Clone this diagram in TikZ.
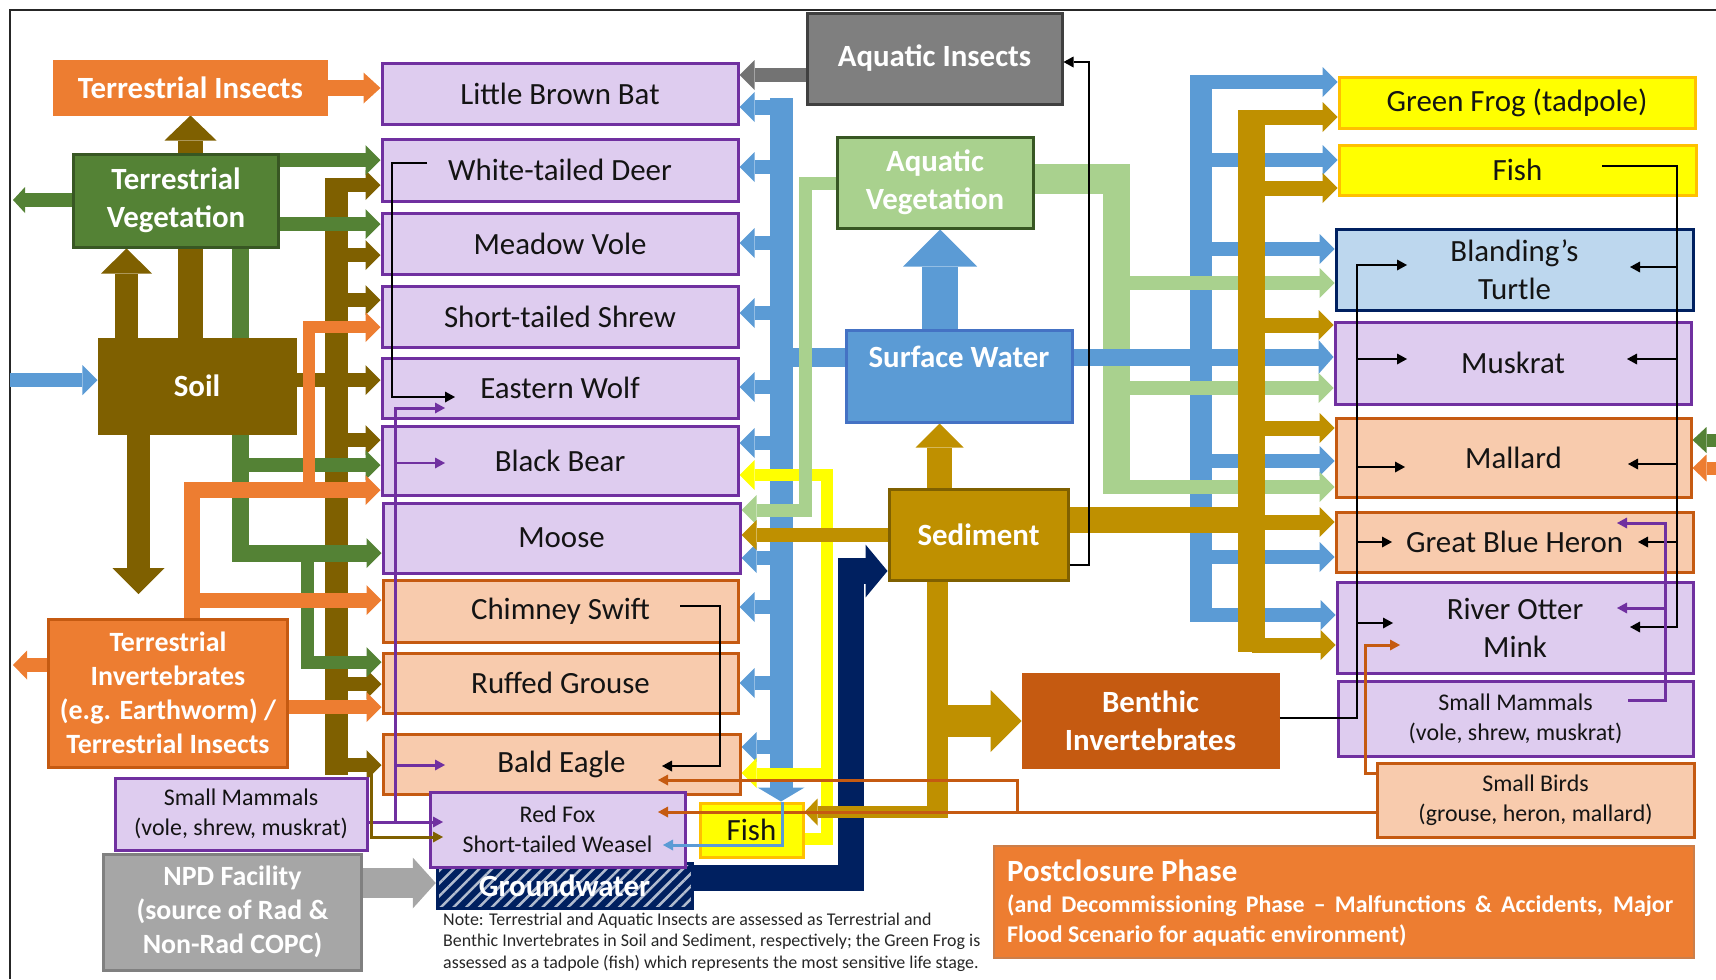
\documentclass[tikz,border=0pt]{standalone}
\usepackage{fontspec}
\setmainfont{Carlito}
\usetikzlibrary{arrows.meta,patterns.meta}
\pgfdeclarelayer{bg}
\pgfsetlayers{bg,main}
\definecolor{lavc}{RGB}{222,204,239}
\definecolor{purc}{RGB}{112,48,160}
\definecolor{pchc}{RGB}{248,203,173}
\definecolor{pbc}{RGB}{197,90,17}
\definecolor{orgc}{RGB}{237,125,49}
\definecolor{tvg}{RGB}{84,130,53}
\definecolor{tvb}{RGB}{56,87,35}
\definecolor{ltg}{RGB}{169,209,142}
\definecolor{soilc}{RGB}{127,96,0}
\definecolor{goldc}{RGB}{191,144,0}
\definecolor{bluec}{RGB}{91,155,213}
\definecolor{blueb}{RGB}{68,114,196}
\definecolor{navyc}{RGB}{0,32,96}
\definecolor{yelc}{RGB}{255,255,0}
\definecolor{yelb}{RGB}{255,192,0}
\definecolor{ltbl}{RGB}{189,215,238}
\definecolor{aig}{RGB}{127,127,127}
\definecolor{aib}{RGB}{64,64,64}
\definecolor{npdg}{RGB}{166,166,166}
\definecolor{npdb}{RGB}{128,128,128}
\definecolor{benc}{RGB}{197,90,17}
\definecolor{txtc}{RGB}{20,20,20}
\newcommand{\fntB}{\fontsize{31}{38}\selectfont\bfseries}
\newcommand{\fntL}{\fontsize{31}{38}\selectfont}
\newcommand{\fntM}{\fontsize{24}{30}\selectfont}
\newcommand{\fntI}{\fontsize{28}{34}\selectfont\bfseries}
\newcommand{\fntN}{\fontsize{18}{21.5}\selectfont}
\newcommand{\fntS}{\fontsize{24}{30.5}\selectfont\bfseries}
\newcommand{\fntP}{\fontsize{31}{31}\selectfont\bfseries}
\newcommand{\diabox}[7]{%
  \pgfmathsetmacro{\bxw}{#4-#2}%
  \pgfmathsetmacro{\bxh}{#5-#3}%
  \node[#6, minimum width=\bxw bp, minimum height=\bxh bp] (#1) at ({(#2+#4)/2},{(#3+#5)/2}) {#7};%
}
\tikzset{
  hd/.style 2 args={-{Triangle[length=#1bp,width=#2bp,line width=0bp]}},
  stdtip/.style={hd={15}{30}},
  thintip/.style={-{Triangle[length=10bp,width=11bp,line width=0bp]}},
  base/.style={draw, line width=3bp, inner sep=0pt, align=center},
  wb/.style={base, text=white, font=\fntB},
  bk/.style={base, text=txtc, font=\fntL},
  lav/.style={bk, fill=lavc, draw=purc},
  pch/.style={bk, fill=pchc, draw=pbc},
  lavs/.style={lav, font=\fntM},
  pchs/.style={pch, font=\fntM},
  thinl/.style={line width=2.5bp},
}
\begin{document}
\begin{tikzpicture}[x=1bp,y=-1bp]
\useasboundingbox (0,0) rectangle (1716,979);
% ---------- nodes ----------
\diabox{ti}{55}{61}{326}{114}{wb, fill=orgc, draw=orgc}{Terrestrial Insects}
\diabox{tv}{74}{154}{278}{247}{wb, fill=tvg, draw=tvb}{Terrestrial\\Vegetation}
\diabox{soil}{99}{339}{295}{433}{wb, fill=soilc, draw=soilc}{Soil}
\diabox{tinv}{49}{619}{287}{767}{wb, font=\fntI, fill=orgc, draw=pbc}{Terrestrial\\Invertebrates\\(e.g. Earthworm) /\\Terrestrial Insects}
\diabox{smL}{115}{778}{367}{850}{lavs}{Small Mammals\\(vole, shrew, muskrat)}
\diabox{npd}{104}{854}{361}{970}{wb, font=\fntI, fill=npdg, draw=npdb}{NPD Facility\\(source of Rad \&\\Non-Rad COPC)}
\diabox{lbb}{382}{63}{738}{124}{lav}{Little Brown Bat}
\diabox{wtd}{382}{139}{738}{201}{lav}{White-tailed Deer}
\diabox{mv}{382}{213}{738}{274}{lav}{Meadow Vole}
\diabox{sts}{382}{286}{738}{347}{lav}{Short-tailed Shrew}
\diabox{ew}{382}{358}{738}{418}{lav}{Eastern Wolf}
\diabox{bb}{382}{426}{738}{495}{lav}{Black Bear}
\diabox{moose}{383}{503}{740}{573}{lav}{Moose}
\diabox{cs}{383}{580}{738}{642}{pch}{Chimney Swift}
\diabox{rg}{383}{653}{738}{713}{pch}{Ruffed Grouse}
\diabox{be}{383}{734}{740}{794}{pch}{Bald Eagle}
\diabox{gw}{437}{863}{692}{908}{wb, draw=navyc, preaction={fill=navyc}, pattern={Lines[angle=45,distance=9bp,line width=2.5bp]}, pattern color=white!70!navyc}{Groundwater}
\diabox{rf}{430}{792}{685}{867}{lavs}{Red Fox\\Short-tailed Weasel}
\diabox{fishS}{700}{803}{803}{857}{bk, fill=yelc, draw=yelb}{Fish}
\diabox{ai}{807}{13}{1062}{104}{wb, fill=aig, draw=aib}{Aquatic Insects}
\diabox{av}{837}{137}{1033}{228}{wb, fill=ltg, draw=tvb}{Aquatic\\Vegetation}
\diabox{sw}{846}{330}{1072}{422}{base, fill=bluec, draw=blueb}{}
\diabox{sed}{889}{489}{1068}{580}{wb, fill=goldc, draw=soilc}{Sediment}
\diabox{bi}{1023}{674}{1278}{767}{wb, fill=benc, draw=benc}{Benthic\\Invertebrates}
\diabox{post}{994}{846}{1694}{958}{base, line width=1.5bp, fill=orgc, draw=orgc!70!gray}{}
\diabox{gf}{1339}{77}{1695}{128}{bk, fill=yelc, draw=yelb}{Green Frog (tadpole)}
\diabox{fishR}{1339}{145}{1696}{195}{bk, fill=yelc, draw=yelb}{Fish}
\diabox{bt}{1336}{229}{1693}{310}{bk, fill=ltbl, draw=navyc}{Blanding’s\\Turtle}
\diabox{mk}{1335}{322}{1691}{404}{lav}{Muskrat}
\diabox{mal}{1336}{418}{1691}{497}{pch}{Mallard}
\diabox{gbh}{1336}{512}{1693}{572}{pch}{Great Blue Heron}
\diabox{ro}{1337}{582}{1693}{673}{lav}{River Otter\\Mink}
\diabox{smR}{1338}{681}{1693}{756}{lavs}{Small Mammals\\(vole, shrew, muskrat)}
\diabox{sb}{1377}{763}{1694}{837}{pchs}{Small Birds\\(grouse, heron, mallard)}
% free ends
\coordinate (tvout) at (13,200);
\coordinate (tinvout) at (13,665);
\coordinate (soilin) at (10,380);
\coordinate (soildn) at (138.5,594);
\coordinate (edgeG) at (1716,440);
\coordinate (edgeO) at (1716,468);
% ---------- fat connectors ----------
\begin{pgfonlayer}{bg}
\draw[line width=2bp, black!85] (10,979) -- (10,10) -- (1716,10);
% soil (brown)
\draw[soilc, line width=23bp, hd={25}{51}] (soil.north -| 126.5,0) -- (tv.south -| 126.5,0);
\draw[soilc, line width=25bp, hd={25}{52}] (soil.north -| 190.5,0) -- (ti.south -| 190.5,0);
\draw[soilc, line width=23bp, hd={26}{52}] (soil.south -| 138.5,0) -- (soildn);
\draw[soilc, line width=14bp, stdtip] (soil.east |- 0,380) -- (ew.west |- 0,380);
\draw[soilc, line width=23bp] (336.5,178) -- (336.5,775);
\foreach \yy/\nn in {185/wtd,255/mv,300/sts,440/bb,684/rg,765/be}
  \draw[soilc, line width=14bp, stdtip] (336.5,\yy) -- (\nn.west |- 0,\yy);
% terrestrial vegetation (green)
\draw[tvg, line width=14bp, stdtip] (tv.east |- 0,160) -- (wtd.west |- 0,160);
\draw[tvg, line width=14bp, stdtip] (tv.east |- 0,224) -- (mv.west |- 0,224);
\draw[tvg, line width=14bp, hd={12}{26}] (tv.west |- 0,200) -- (tvout);
\draw[tvg, line width=17bp, stdtip] (tv.south -| 240.5,0) -- (240.5,553) -- (moose.west |- 0,553);
\draw[tvg, line width=14bp, stdtip] (240.5,465) -- (bb.west |- 0,465);
\draw[tvg, line width=13bp, stdtip] (307,553) -- (307,662) -- (rg.west |- 0,662);
% terrestrial invertebrates / insects (orange)
\draw[orgc, line width=16bp, hd={17}{31}] (ti.east |- 0,88) -- (lbb.west |- 0,88);
\draw[orgc, line width=14bp, hd={14}{29}] (tinv.west |- 0,665) -- (tinvout);
\draw[orgc, line width=16bp, stdtip] (tinv.north -| 191.5,0) -- (191.5,490) -- (bb.west |- 0,490);
\draw[orgc, line width=15bp, stdtip] (191.5,600) -- (cs.west |- 0,600);
\draw[orgc, line width=12bp, stdtip] (309,490) -- (309,327) -- (sts.west |- 0,327);
\draw[orgc, line width=14bp, stdtip] (tinv.east |- 0,707) -- (rg.west |- 0,707);
% grey
\draw[npdg, line width=30bp, hd={23}{51}] (npd.east |- 0,883) -- (gw.west |- 0,883);
\draw[black!55, line width=14bp, stdtip] (ai.west |- 0,75) -- (lbb.east |- 0,75);
% aquatic vegetation trunk (right)
\draw[ltg, line width=30bp] (av.east |- 0,179) -- (1130,179);
\draw[ltg, line width=27bp] (1116.5,164) -- (1116.5,494);
% surface water (blue)
\draw[bluec, line width=14bp, stdtip] (soilin) -- (soil.west |- 0,380);
\draw[bluec, line width=23bp, hd={14}{47}] (781,98) -- (fishS.north -| 781,0);
\draw[bluec, line width=15bp, stdtip] (792,107) -- (lbb.east |- 0,107);
\foreach \yy/\nn in {167/wtd,243/mv,313/sts,387/ew,443/bb,558/moose,607/cs,683/rg,747/be}
  \draw[bluec, line width=14bp, stdtip] (781,\yy) -- (\nn.east |- 0,\yy);
\draw[bluec, line width=19bp] (sw.west |- 0,357.5) -- (781,357.5);
\draw[bluec, line width=36bp, hd={37}{74}] (sw.north -| 940,0) -- (av.south -| 940,0);
\draw[bluec, line width=17bp, hd={15}{34}] (sw.east |- 0,357) -- (mk.west |- 0,357);
\draw[bluec, line width=22bp] (1201,75) -- (1201,622);
\foreach \yy/\nn in {82/gf,160/fishR,249/bt,461/mal,557/gbh,615/ro}
  \draw[bluec, line width=14bp, stdtip] (1201,\yy) -- (\nn.west |- 0,\yy);
% fish (yellow)
\draw[yelc, line width=12bp, stdtip] (fishS.east |- 0,839) -- (827,839) -- (827,475) -- (bb.east |- 0,475);
\draw[yelc, line width=11bp, stdtip] (827,773) -- (be.east |- 0,773);
% aquatic vegetation (light green)
\draw[ltg, line width=13bp, stdtip] (av.west |- 0,183.5) -- (805,183.5) -- (805,510) -- (moose.east |- 0,510);
\foreach \yy/\nn in {283/bt,388/mk,487/mal}
  \draw[ltg, line width=14bp, stdtip] (1116.5,\yy) -- (\nn.west |- 0,\yy);
% groundwater (navy)
\draw[navyc, line width=26bp, hd={22}{53}] (gw.east |- 0,878) -- (851,878) -- (851,571) -- (sed.west |- 0,571);
% sediment (gold)
\draw[goldc, line width=25bp, hd={24}{48}] (sed.north -| 939.5,0) -- (sw.south -| 939.5,0);
\draw[goldc, line width=14bp, stdtip] (sed.west |- 0,535) -- (moose.east |- 0,535);
\draw[goldc, line width=21bp] (sed.south -| 937.5,0) -- (937.5,818);
\draw[goldc, line width=12bp, hd={13}{27}] (946,812) -- (fishS.east |- 0,812);
\draw[goldc, line width=32bp, hd={31}{62}] (937.5,721) -- (bi.west |- 0,721);
\draw[goldc, line width=26bp] (sed.east |- 0,520) -- (1265,520);
\draw[goldc, line width=27bp] (1251.5,110) -- (1251.5,652);
\foreach \yy/\nn in {117/gf,188/fishR,325/mk,428/mal,522/gbh,645/ro}
  \draw[goldc, line width=15bp, stdtip] (1251.5,\yy) -- (\nn.west |- 0,\yy);
% from the right edge into Mallard
\draw[tvg, line width=13bp, hd={14}{26}] (edgeG) -- (mal.east |- 0,440);
\draw[orgc, line width=13bp, hd={14}{27}] (edgeO) -- (mal.east |- 0,468);
\end{pgfonlayer}
% ---------- thin connectors ----------
% black
\draw[black, thinl, thintip] (427,163) -- (392,163) -- (392,397) -- (455,397);
\draw[black, thinl, thintip] (680,606) -- (720,606) -- (720,766) -- (662,766);
\draw[black, thinl, thintip] (sed.east |- 0,565) -- (1089,565) -- (1089,62) -- (ai.east |- 0,62);
\draw[black, thinl, thintip] (bi.east |- 0,718) -- (1357,718) -- (1357,265) -- (1407,265);
\foreach \yy/\xx in {359/1407,467/1405,542/1392,623/1393}
  \draw[black, thinl, thintip] (1357,\yy) -- (\xx,\yy);
\draw[black, thinl, thintip] (1602,166) -- (1677,166) -- (1677,627) -- (1630,627);
\foreach \yy/\xx in {267/1630,359/1627,464/1628,542/1638}
  \draw[black, thinl, thintip] (1677,\yy) -- (\xx,\yy);
% purple (small mammals)
\draw[purc, line width=3bp, thintip] (smL.east |- 0,822) -- (443,822);
\draw[purc, line width=3bp, thintip] (395,822) -- (395,408) -- (445,408);
\draw[purc, line width=2bp, thintip] (395,463) -- (445,463);
\draw[purc, line width=3bp, thintip] (395,765) -- (445,765);
\draw[purc, line width=3bp, thintip] (1628,700) -- (1665,700) -- (1665,523) -- (1617,523);
\draw[purc, line width=3bp, thintip] (1665,608) -- (1617,608);
% brown thin (soil to red fox)
\draw[soilc, line width=3bp, thintip] (371,765) -- (371,837) -- (443,837);
% orange-brown thin (small birds)
\draw[pbc, line width=3bp, thintip] (sb.west |- 0,773) -- (1365,773) -- (1365,645) -- (1400,645);
\draw[pbc, line width=3bp, thintip] (sb.west |- 0,812) -- (658,812);
\draw[pbc, line width=3bp, thintip] (1017,812) -- (1017,780) -- (658,780);
% blue thin (fish to weasel)
\draw[bluec, line width=3bp, thintip] (782,802) -- (782,845) -- (663,845);
% ---------- free text ----------
\node[text=white, font=\fntB, inner sep=0pt] (swl) at (959,357) {Surface Water};
\node[anchor=north west, align=left, inner sep=0pt, font=\fntN, text=black!85] (note) at (443,912.5)
  {Note: Terrestrial and Aquatic Insects are assessed as Terrestrial and\\Benthic Invertebrates in Soil and Sediment, respectively; the Green Frog is\\assessed as a tadpole (fish) which represents the most sensitive life stage.};
\node[anchor=north west, align=left, inner sep=0pt, font=\fntS, text=white] (postt) at (1007,860)
  {{\fntP Postclosure Phase}\\\makebox[666bp][s]{(and Decommissioning Phase – Malfunctions \& Accidents, Major}\\Flood Scenario for aquatic environment)};
\end{tikzpicture}
\end{document}
